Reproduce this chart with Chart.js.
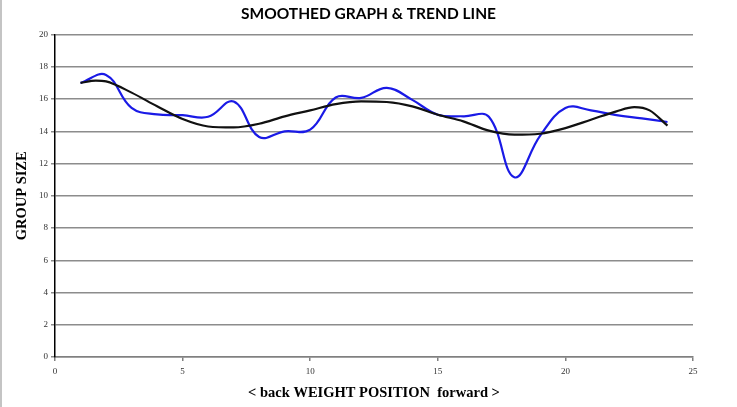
<!DOCTYPE html>
<html>
<head>
<meta charset="utf-8">
<script src="https://cdn.jsdelivr.net/npm/chart.js@4.4.0/dist/chart.umd.min.js"></script>
<style>
  html, body { margin: 0; padding: 0; background: #fff; }
  #wrap { position: relative; width: 737px; height: 407px; }
</style>
</head>
<body>
<div id="wrap"><canvas id="myChart" width="737" height="407"></canvas></div>
<script>
// weight positions and group sizes
const positions = [1, 2, 3, 4, 5, 6, 7, 8, 9, 10, 11, 12, 13, 14, 15, 16, 17, 18, 19, 20, 21, 22, 23, 24];
const groupSize = [17.0, 17.5, 15.45, 15.05, 15.0, 14.9, 15.85, 13.65, 14.0, 14.1, 16.1, 16.07, 16.7, 15.95, 15.03, 14.93, 14.9, 11.15, 13.7, 15.45, 15.3, 15.0, 14.8, 14.58];

// trend line (polynomial)
const trendX = [1, 1.6, 2, 3, 4, 5, 6, 7, 8, 9, 10, 11, 12, 13, 14, 15, 16, 17, 18, 19, 20, 21, 22, 22.7, 23.3, 24];
const trendY = [17.0, 17.15, 17.1, 16.4, 15.55, 14.76, 14.3, 14.24, 14.47, 14.93, 15.3, 15.69, 15.86, 15.82, 15.55, 15.03, 14.62, 14.04, 13.79, 13.85, 14.2, 14.72, 15.24, 15.5, 15.3, 14.35];

const xTicks = [0, 5, 10, 15, 20, 25];
const yTicks = [0, 2, 4, 6, 8, 10, 12, 14, 16, 18, 20];

(function(){
    const grafico = document.getElementById('myChart');

    const frame = {
        id: 'frame',
        beforeDraw(chart) {
            const ctx = chart.ctx;
            ctx.save();
            ctx.fillStyle = '#fff';
            ctx.fillRect(0, 0, chart.width, chart.height);
            ctx.strokeStyle = '#c4c4c4';
            ctx.lineWidth = 2;
            ctx.beginPath();
            ctx.moveTo(1, 0);
            ctx.lineTo(1, chart.height);
            ctx.stroke();
            ctx.restore();
        }
    };

    const config = {
        type: 'scatter',
        data: {
            datasets: [
                {
                    label: 'Trend',
                    data: trendX.map((x, i) => ({ x: x, y: trendY[i] })),
                    showLine: true,
                    borderColor: '#111',
                    borderWidth: 2.2,
                    pointRadius: 0,
                    tension: 0.4,
                    cubicInterpolationMode: 'monotone',
                    fill: false
                },
                {
                    label: 'Group size',
                    data: positions.map((x, i) => ({ x: x, y: groupSize[i] })),
                    showLine: true,
                    borderColor: '#1a1ae6',
                    borderWidth: 2.2,
                    pointRadius: 0,
                    tension: 0.4,
                    fill: false
                }
            ]
        },
        options: {
            responsive: false,
            animation: false,
            layout: { padding: { left: 0, right: 0, top: 0, bottom: 4 } },
            plugins: {
                legend: { display: false },
                tooltip: { enabled: false },
                title: {
                    display: true,
                    text: 'SMOOTHED GRAPH & TREND LINE',
                    color: '#000',
                    font: { family: 'Lato', size: 15.5, weight: 'bold' },
                    padding: { top: 5, bottom: 11 }
                }
            },
            scales: {
                x: {
                    type: 'linear',
                    min: 0,
                    max: 25,
                    afterBuildTicks: s => { s.ticks = xTicks.map(v => ({ value: v })); },
                    afterFit: s => { s.height = 46; },
                    border: { color: '#808080', width: 1.5 },
                    grid: { drawOnChartArea: false, color: '#808080', lineWidth: 1.5, tickLength: 4 },
                    ticks: { color: '#333', padding: 5, maxRotation: 0, font: { family: 'Liberation Serif', size: 9 } },
                    title: {
                        display: true,
                        text: '< back WEIGHT POSITION  forward >',
                        color: '#000',
                        font: { family: 'Liberation Serif', size: 14.5, weight: 'bold' },
                        padding: { top: 0, bottom: 1 }
                    }
                },
                y: {
                    min: 0,
                    max: 20,
                    afterBuildTicks: s => { s.ticks = yTicks.map(v => ({ value: v })); },
                    afterFit: s => { s.width = 55; },
                    border: { color: '#000', width: 1.5 },
                    grid: { color: '#8c8c8c', lineWidth: 1.5, tickLength: 4 },
                    ticks: { color: '#333', padding: 3, font: { family: 'Liberation Serif', size: 9 } },
                    title: {
                        display: true,
                        text: 'GROUP SIZE',
                        color: '#000',
                        font: { family: 'Liberation Serif', size: 14.5, weight: 'bold' },
                        padding: { top: 14, bottom: 0 }
                    }
                },
                // empty margin on the right so the title centres on the page
                gap: {
                    position: 'right',
                    min: 0,
                    max: 1,
                    afterFit: s => { s.width = 44; },
                    border: { display: false },
                    grid: { display: false },
                    ticks: { display: false }
                }
            }
        },
        plugins: [frame]
    };

    new Chart(grafico, config);
})();
</script>
</body>
</html>
